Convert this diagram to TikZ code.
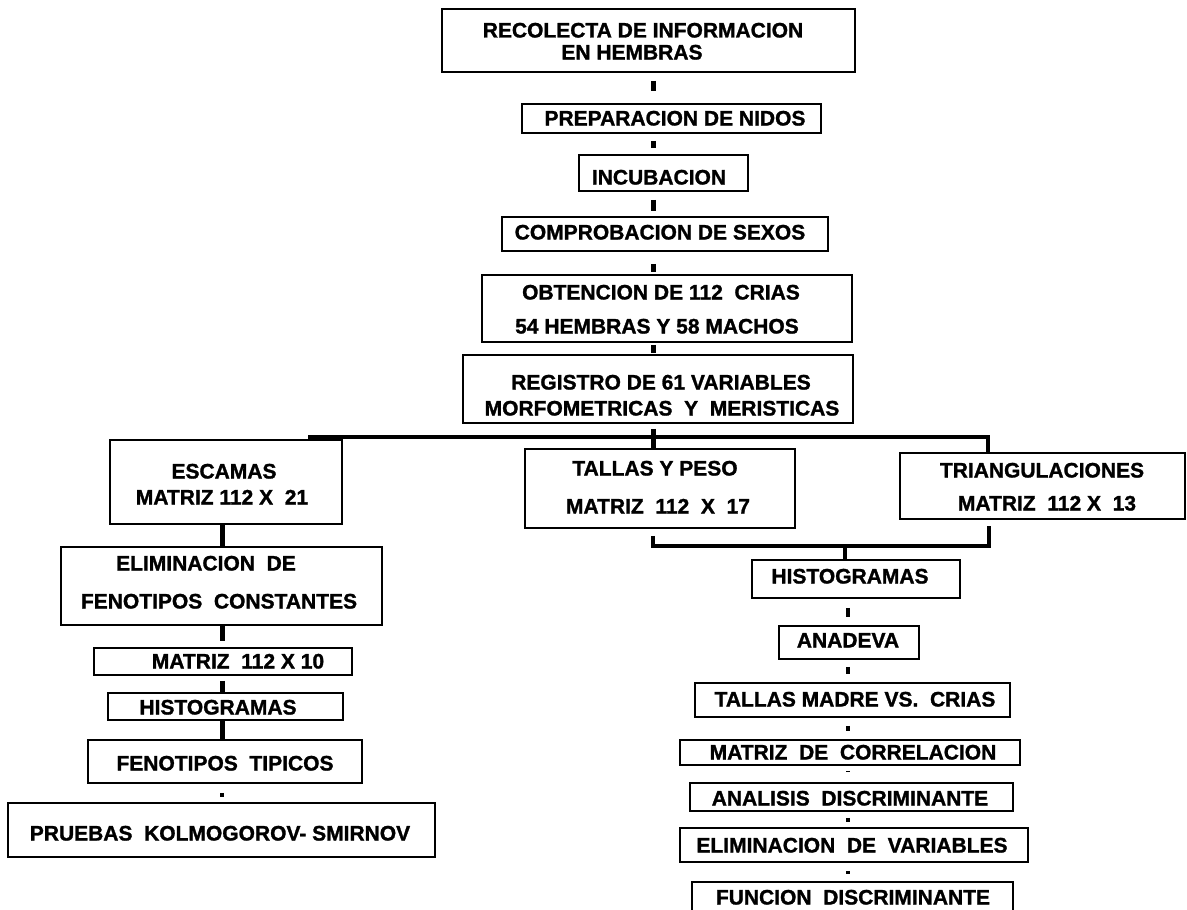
\documentclass[tikz,border=0pt]{standalone}
\usepackage{fontspec}
\setmainfont{Liberation Sans}[BoldFeatures={FakeBold=1.3}]
\begin{document}
\begin{tikzpicture}[x=1pt,y=-1pt,
  bx/.style={draw=black, line width=1.6pt, inner sep=0pt, fill=none},
  tl/.style={inner sep=0pt, text height=15pt, text depth=0pt, anchor=center,
    font=\fontsize{21}{24}\selectfont\bfseries},
  bar/.style={line width=5pt, draw=black},
  dotbar/.style={line width=4.5pt, draw=black},
  branch/.style={line width=3.5pt, draw=black}]
\useasboundingbox (0,0) rectangle (1187,910);
\clip (0,0) rectangle (1187,910);
\fill[white] (0,0) rectangle (1187,910);
\newcommand\mkbox[5]{\node[bx, minimum width={#4-#2}, minimum height={#5-#3}] (#1) at ({(#2+#4)/2},{(#3+#5)/2}) {};}
\newcommand\mktxt[4]{\node[tl] (#1) at (#2,#3) {#4};}
% ---- top chain ----
\mkbox{rec}{442}{9}{855}{72}
\mktxt{trec1}{643}{30}{RECOLECTA DE INFORMACION}
\mktxt{trec2}{632}{52}{EN HEMBRAS}
\mkbox{prep}{522}{104}{821}{133}
\mktxt{tprep}{675}{118}{PREPARACION DE NIDOS}
\mkbox{inc}{579}{155}{748}{191}
\mktxt{tinc}{659}{177}{INCUBACION}
\mkbox{comp}{502}{217}{828}{251}
\mktxt{tcomp}{660}{232}{COMPROBACION DE SEXOS}
\mkbox{obt}{482}{275}{852}{342}
\mktxt{tobt1}{661}{292}{OBTENCION DE 112~ CRIAS}
\mktxt{tobt2}{657}{326}{54 HEMBRAS Y 58 MACHOS}
\mkbox{reg}{463}{355}{853}{423}
\mktxt{treg1}{661}{382}{REGISTRO DE 61 VARIABLES}
\mktxt{treg2}{662}{408}{MORFOMETRICAS~ Y~ MERISTICAS}
% ---- second level ----
\mkbox{esc}{110}{440}{342}{524}
\mktxt{tesc1}{224}{471}{ESCAMAS}
\mktxt{tesc2}{222}{497}{MATRIZ 112 X~ 21}
\mkbox{tal}{525}{449}{795}{528}
\mktxt{ttal1}{655}{468}{TALLAS Y PESO}
\mktxt{ttal2}{658}{506}{MATRIZ~ 112~ X~ 17}
\mkbox{tri}{900}{453}{1185}{519}
\mktxt{ttri1}{1042}{470}{TRIANGULACIONES}
\mktxt{ttri2}{1047}{503}{MATRIZ~ 112 X~ 13}
% ---- left chain ----
\mkbox{elim}{61}{547}{382}{625}
\mktxt{telim1}{206}{563}{ELIMINACION~ DE}
\mktxt{telim2}{219}{601}{FENOTIPOS~ CONSTANTES}
\mkbox{mdiez}{94}{648}{352}{675}
\mktxt{tmdiez}{238}{661}{MATRIZ~ 112 X 10}
\mkbox{hia}{108}{693}{343}{720}
\mktxt{thia}{218}{707}{HISTOGRAMAS}
\mkbox{fen}{88}{740}{362}{783}
\mktxt{tfen}{225}{763}{FENOTIPOS~ TIPICOS}
\mkbox{pru}{8}{803}{435}{857}
\mktxt{tpru}{220}{833}{PRUEBAS~ KOLMOGOROV- SMIRNOV}
% ---- right chain ----
\mkbox{hib}{752}{560}{960}{598}
\mktxt{thib}{850}{576}{HISTOGRAMAS}
\mkbox{ana}{779}{626}{919}{659}
\mktxt{tana}{848}{640}{ANADEVA}
\mkbox{tma}{695}{683}{1010}{717}
\mktxt{ttma}{855}{699}{TALLAS MADRE VS.~ CRIAS}
\mkbox{mco}{680}{740}{1020}{765}
\mktxt{tmco}{853}{752}{MATRIZ~ DE~ CORRELACION}
\mkbox{adi}{690}{783}{1013}{811}
\mktxt{tadi}{850}{798}{ANALISIS~ DISCRIMINANTE}
\mkbox{elv}{680}{828}{1028}{862}
\mktxt{telv}{852}{845}{ELIMINACION~ DE~ VARIABLES}
\mkbox{fun}{692}{882}{1013}{930}
\mktxt{tfun}{853}{897}{FUNCION~ DISCRIMINANTE}
% ---- axes ----
\coordinate (axa) at (653,0);
\coordinate (axl) at (222,0);
\coordinate (axr) at (848,0);
% top chain connectors
\draw[bar] ([yshift=-8pt]rec.south -| axa) -- ([yshift=12pt]prep.north -| axa);
\draw[bar] ([yshift=-7pt]prep.south -| axa) -- ([yshift=6pt]inc.north -| axa);
\draw[bar] ([yshift=-8pt]inc.south -| axa) -- ([yshift=5pt]comp.north -| axa);
\draw[bar] ([yshift=-12pt]comp.south -| axa) -- ([yshift=2pt]obt.north -| axa);
\draw[bar] ([yshift=-2pt]obt.south -| axa) -- ([yshift=1pt]reg.north -| axa);
\draw[bar] ([yshift=-5pt]reg.south -| axa) -- (tal.north -| axa);
% branch
\coordinate (bl) at (310,437);
\coordinate (br) at (988,437);
\draw[branch] (bl |- esc.north) -- (bl) -- (br) -- (br |- tri.north);
% left chain
\draw[bar] (esc.south -| axl) -- (elim.north -| axl);
\draw[bar] (elim.south -| axl) -- ([yshift=6pt]mdiez.north -| axl);
\draw[bar] ([yshift=-5pt]mdiez.south -| axl) -- (hia.north -| axl);
\draw[bar] (hia.south -| axl) -- (fen.north -| axl);
\draw[dotbar] ([yshift=-9pt]fen.south -| axl) -- ([yshift=5pt]pru.north -| axl);
% bracket
\coordinate (kl) at (653,546);
\coordinate (kr) at (989,546);
\coordinate (kt) at (845,546);
\draw[branch] ([yshift=-7pt]tal.south -| kl) -- (kl) -- (kr) -- ([yshift=-6pt]tri.south -| kr);
\draw[branch] (kt) -- (hib.north -| kt);
% right chain
\draw[dotbar] ([yshift=-9pt]hib.south -| axr) -- ([yshift=8pt]ana.north -| axr);
\draw[dotbar] ([yshift=-7pt]ana.south -| axr) -- ([yshift=8pt]tma.north -| axr);
\draw[dotbar] ([yshift=-8pt]tma.south -| axr) -- ([yshift=8pt]mco.north -| axr);
\draw[dotbar] ([yshift=-5pt]mco.south -| axr) -- ([yshift=10pt]adi.north -| axr);
\draw[dotbar] ([yshift=-6pt]adi.south -| axr) -- ([yshift=5pt]elv.north -| axr);
\draw[dotbar] ([yshift=-8pt]elv.south -| axr) -- ([yshift=7pt]fun.north -| axr);
\end{tikzpicture}
\end{document}
